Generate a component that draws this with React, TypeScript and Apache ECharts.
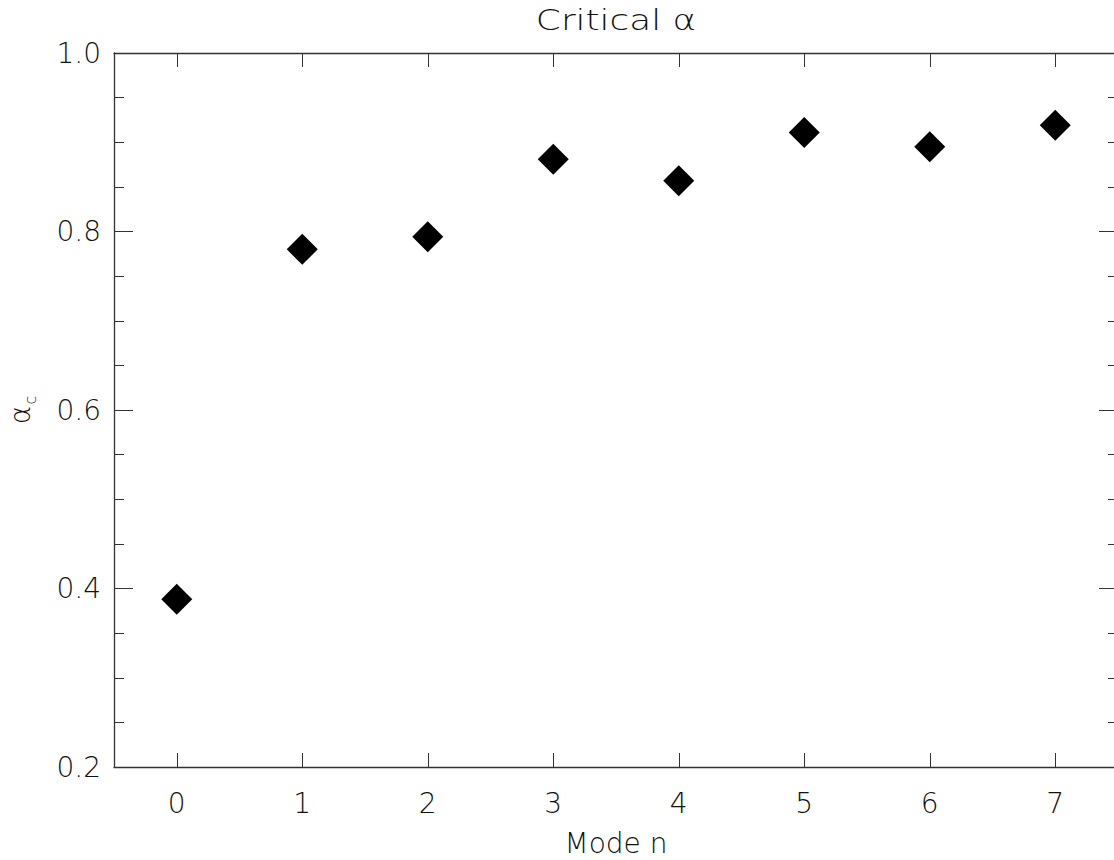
import React, { useEffect, useRef } from "react";
import * as echarts from "echarts";

const modes = ["0", "1", "2", "3", "4", "5", "6", "7"];
const alphaC = [0.388, 0.780, 0.794, 0.881, 0.857, 0.911, 0.895, 0.919];
const yTicks = { min: 0.2, max: 1.0, interval: 0.2 };

const FONT = "DejaVu Sans";
const INK = "#111";

export default function App() {
  const ref = useRef<HTMLDivElement>(null);
  useEffect(() => {
    if (!ref.current) return;
    const chart = echarts.init(ref.current, null, { renderer: "svg" });
    const axisLine = { show: true, lineStyle: { color: "#333", width: 1.3 } };
    chart.setOption({
      animation: false,
      backgroundColor: "#fff",
      grid: {
        left: 114, top: 53, right: -4, bottom: 93,
        containLabel: false, outerBoundsMode: "none",
      },
      xAxis: [
        {
          type: "category",
          data: modes,
          position: "bottom",
          boundaryGap: true,
          axisLine,
          axisTick: { show: true, inside: true, length: 14, alignWithLabel: true, lineStyle: { color: "#333" } },
          axisLabel: { fontFamily: FONT, fontWeight: 200, fontSize: 28, color: INK, margin: 22 },
          splitLine: { show: false },
          name: "Mode n",
          nameLocation: "middle",
          nameGap: 62,
          nameTextStyle: { fontFamily: FONT, fontWeight: 200, fontSize: 28, color: INK },
        },
        {
          type: "category",
          data: modes,
          position: "top",
          boundaryGap: true,
          axisLine,
          axisTick: { show: true, inside: true, length: 14, alignWithLabel: true, lineStyle: { color: "#333" } },
          axisLabel: { show: false },
          splitLine: { show: false },
        },
      ],
      yAxis: [
        {
          type: "value",
          position: "left",
          min: yTicks.min,
          max: yTicks.max,
          interval: yTicks.interval,
          axisLine,
          axisTick: { show: true, inside: true, length: 19, lineStyle: { color: "#333" } },
          minorTick: { show: true, splitNumber: 4, length: 10, lineStyle: { color: "#333" } },
          axisLabel: {
            fontFamily: FONT, fontWeight: 200, fontSize: 28, color: INK, margin: 13,
            formatter: (v: number) => v.toFixed(1),
          },
          splitLine: { show: false },
          minorSplitLine: { show: false },
        },
        {
          type: "value",
          position: "right",
          min: yTicks.min,
          max: yTicks.max,
          interval: yTicks.interval,
          axisLine,
          axisTick: { show: true, inside: true, length: 19, lineStyle: { color: "#333" } },
          minorTick: { show: true, splitNumber: 4, length: 10, lineStyle: { color: "#333" } },
          axisLabel: { show: false },
          splitLine: { show: false },
          minorSplitLine: { show: false },
        },
      ],
      graphic: [
        {
          type: "text",
          x: 616,
          y: 20,
          scaleX: 1.28,
          style: {
            text: "Critical α",
            fontFamily: FONT, fontWeight: 200, fontSize: 28, fill: INK,
            align: "center", verticalAlign: "middle",
          },
        },
        {
          type: "text",
          x: 20,
          y: 415,
          rotation: Math.PI / 2,
          style: {
            text: "α",
            fontFamily: FONT, fontWeight: 200, fontSize: 28, fill: INK,
            align: "center", verticalAlign: "middle",
          },
        },
        {
          type: "text",
          x: 30,
          y: 400,
          rotation: Math.PI / 2,
          style: {
            text: "c",
            fontFamily: FONT, fontWeight: 200, fontSize: 16, fill: INK,
            align: "center", verticalAlign: "middle",
          },
        },
      ],
      series: [
        {
          type: "scatter",
          xAxisIndex: 0,
          yAxisIndex: 0,
          data: alphaC,
          symbol: "diamond",
          symbolSize: 31,
          itemStyle: { color: "#000", opacity: 1 },
        },
      ],
    });
    return () => chart.dispose();
  }, []);
  return (
    <div
      ref={ref}
      style={{ position: "absolute", left: 0, top: 0, width: 1114, height: 860, background: "#fff" }}
    />
  );
}
